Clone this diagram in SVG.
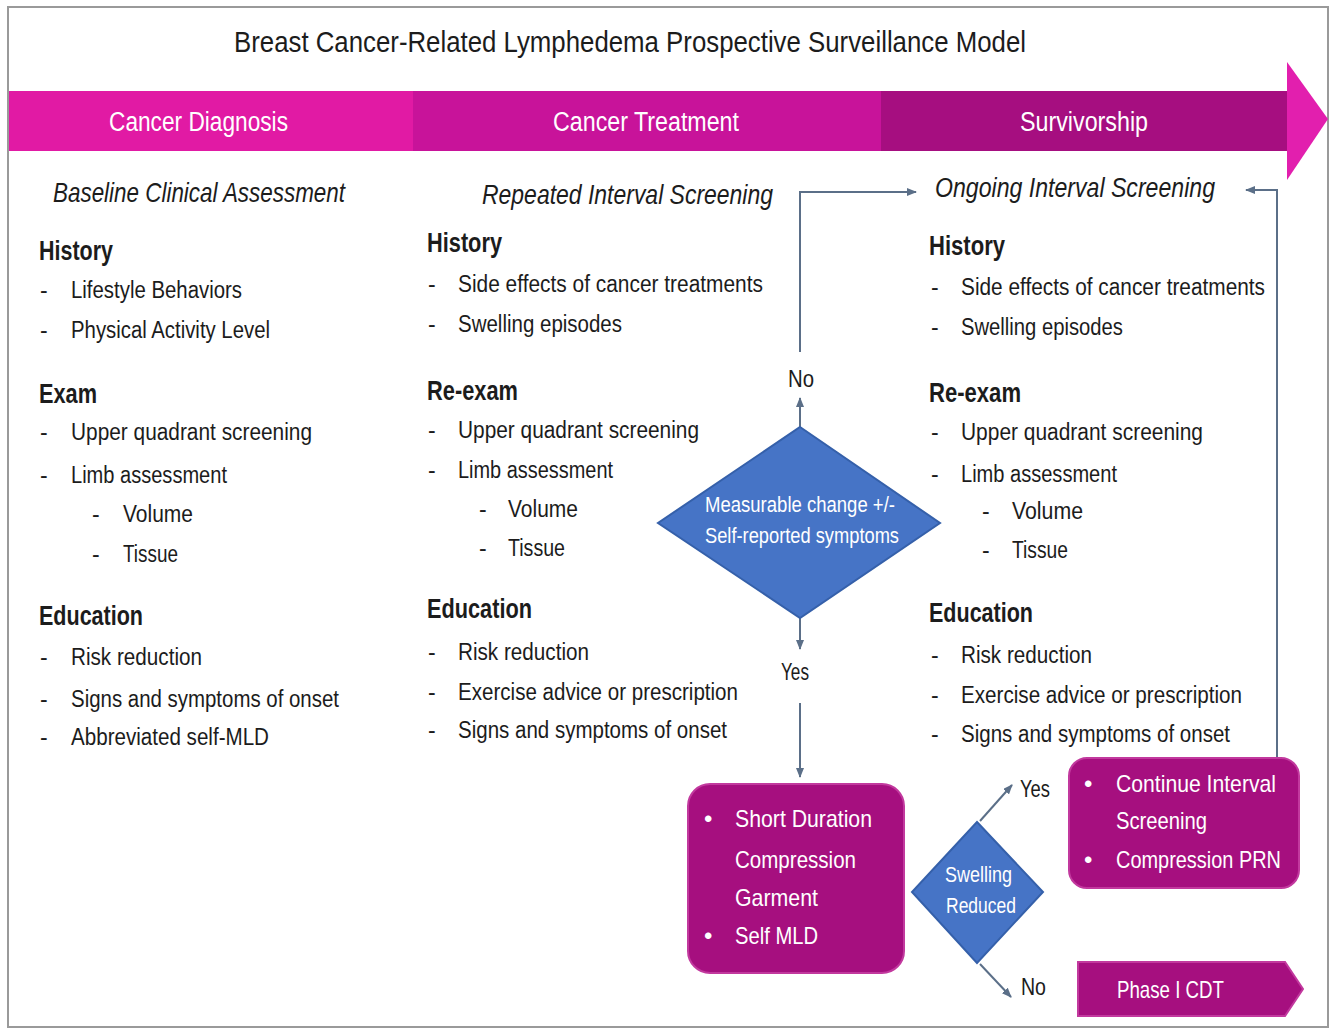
<svg xmlns="http://www.w3.org/2000/svg" width="1335" height="1032" viewBox="0 0 1335 1032">
<style>
text{font-family:"Liberation Sans",Arial,sans-serif;fill:#1c1c1c}
.title{font-size:29px}
.band{font-size:27px;fill:#fff}
.sub{font-size:28px;font-style:italic}
.h{font-size:28px;font-weight:bold}
.b{font-size:23px}
.d{font-size:22px;fill:#fff}
.bx{font-size:24px;fill:#fff}
.lbl{font-size:24px}
.conn{fill:none;stroke:#5b6f88;stroke-width:2}
.box{fill:#a60f7f;stroke:#c2399e;stroke-width:2}
.dia{fill:#4674c6;stroke:#3560aa;stroke-width:2}
</style>
<defs>
<marker id="ah" markerWidth="10" markerHeight="8" refX="9" refY="4" orient="auto" markerUnits="userSpaceOnUse">
<path d="M0,0 L10,4 L0,8 Z" fill="#5b6f88"/>
</marker>
</defs>
<rect x="8" y="7" width="1320" height="1020" fill="#ffffff" stroke="#9a9a9a" stroke-width="2"/>
<g id="title">
<text class="title" x="234" y="52" textLength="792" lengthAdjust="spacingAndGlyphs">Breast Cancer-Related Lymphedema Prospective Surveillance Model</text>
</g>
<g id="timeline">
<rect x="9" y="91" width="404" height="60" fill="#e11aa4"/>
<rect x="413" y="91" width="468" height="60" fill="#c8139a"/>
<rect x="881" y="91" width="407" height="60" fill="#a60e80"/>
<polygon points="1287,62 1328,119 1287,180" fill="#e21fae"/>
<text class="band" x="109" y="131" textLength="179" lengthAdjust="spacingAndGlyphs">Cancer Diagnosis</text>
<text class="band" x="553" y="131" textLength="186" lengthAdjust="spacingAndGlyphs">Cancer Treatment</text>
<text class="band" x="1020" y="131" textLength="128" lengthAdjust="spacingAndGlyphs">Survivorship</text>
</g>
<g id="col-diagnosis">
<text class="sub" x="53" y="202" textLength="292" lengthAdjust="spacingAndGlyphs">Baseline Clinical Assessment</text>
<text class="h" x="39" y="260" textLength="74" lengthAdjust="spacingAndGlyphs">History</text>
<text class="b" x="40" y="298">-</text><text class="b" x="71" y="298" textLength="171" lengthAdjust="spacingAndGlyphs">Lifestyle Behaviors</text>
<text class="b" x="40" y="338">-</text><text class="b" x="71" y="338" textLength="199" lengthAdjust="spacingAndGlyphs">Physical Activity Level</text>
<text class="h" x="39" y="403" textLength="58" lengthAdjust="spacingAndGlyphs">Exam</text>
<text class="b" x="40" y="440">-</text><text class="b" x="71" y="440" textLength="241" lengthAdjust="spacingAndGlyphs">Upper quadrant screening</text>
<text class="b" x="40" y="483">-</text><text class="b" x="71" y="483" textLength="156" lengthAdjust="spacingAndGlyphs">Limb assessment</text>
<text class="b" x="92" y="522">-</text><text class="b" x="123" y="522" textLength="70" lengthAdjust="spacingAndGlyphs">Volume</text>
<text class="b" x="92" y="562">-</text><text class="b" x="123" y="562" textLength="55" lengthAdjust="spacingAndGlyphs">Tissue</text>
<text class="h" x="39" y="625" textLength="104" lengthAdjust="spacingAndGlyphs">Education</text>
<text class="b" x="40" y="665">-</text><text class="b" x="71" y="665" textLength="131" lengthAdjust="spacingAndGlyphs">Risk reduction</text>
<text class="b" x="40" y="707">-</text><text class="b" x="71" y="707" textLength="268" lengthAdjust="spacingAndGlyphs">Signs and symptoms of onset</text>
<text class="b" x="40" y="745">-</text><text class="b" x="71" y="745" textLength="198" lengthAdjust="spacingAndGlyphs">Abbreviated self-MLD</text>
</g>
<g id="col-treatment">
<text class="sub" x="482" y="204" textLength="291" lengthAdjust="spacingAndGlyphs">Repeated Interval Screening</text>
<text class="h" x="427" y="252" textLength="75" lengthAdjust="spacingAndGlyphs">History</text>
<text class="b" x="428" y="292">-</text><text class="b" x="458" y="292" textLength="305" lengthAdjust="spacingAndGlyphs">Side effects of cancer treatments</text>
<text class="b" x="428" y="332">-</text><text class="b" x="458" y="332" textLength="164" lengthAdjust="spacingAndGlyphs">Swelling episodes</text>
<text class="h" x="427" y="400" textLength="91" lengthAdjust="spacingAndGlyphs">Re-exam</text>
<text class="b" x="428" y="438">-</text><text class="b" x="458" y="438" textLength="241" lengthAdjust="spacingAndGlyphs">Upper quadrant screening</text>
<text class="b" x="428" y="478">-</text><text class="b" x="458" y="478" textLength="155" lengthAdjust="spacingAndGlyphs">Limb assessment</text>
<text class="b" x="479" y="517">-</text><text class="b" x="508" y="517" textLength="70" lengthAdjust="spacingAndGlyphs">Volume</text>
<text class="b" x="479" y="556">-</text><text class="b" x="508" y="556" textLength="57" lengthAdjust="spacingAndGlyphs">Tissue</text>
<text class="h" x="427" y="618" textLength="105" lengthAdjust="spacingAndGlyphs">Education</text>
<text class="b" x="428" y="660">-</text><text class="b" x="458" y="660" textLength="131" lengthAdjust="spacingAndGlyphs">Risk reduction</text>
<text class="b" x="428" y="700">-</text><text class="b" x="458" y="700" textLength="280" lengthAdjust="spacingAndGlyphs">Exercise advice or prescription</text>
<text class="b" x="428" y="738">-</text><text class="b" x="458" y="738" textLength="269" lengthAdjust="spacingAndGlyphs">Signs and symptoms of onset</text>
</g>
<g id="col-survivorship">
<text class="sub" x="935" y="197" textLength="280" lengthAdjust="spacingAndGlyphs">Ongoing Interval Screening</text>
<text class="h" x="929" y="255" textLength="76" lengthAdjust="spacingAndGlyphs">History</text>
<text class="b" x="931" y="295">-</text><text class="b" x="961" y="295" textLength="304" lengthAdjust="spacingAndGlyphs">Side effects of cancer treatments</text>
<text class="b" x="931" y="335">-</text><text class="b" x="961" y="335" textLength="162" lengthAdjust="spacingAndGlyphs">Swelling episodes</text>
<text class="h" x="929" y="402" textLength="92" lengthAdjust="spacingAndGlyphs">Re-exam</text>
<text class="b" x="931" y="440">-</text><text class="b" x="961" y="440" textLength="242" lengthAdjust="spacingAndGlyphs">Upper quadrant screening</text>
<text class="b" x="931" y="482">-</text><text class="b" x="961" y="482" textLength="156" lengthAdjust="spacingAndGlyphs">Limb assessment</text>
<text class="b" x="982" y="519">-</text><text class="b" x="1012" y="519" textLength="71" lengthAdjust="spacingAndGlyphs">Volume</text>
<text class="b" x="982" y="558">-</text><text class="b" x="1012" y="558" textLength="56" lengthAdjust="spacingAndGlyphs">Tissue</text>
<text class="h" x="929" y="622" textLength="104" lengthAdjust="spacingAndGlyphs">Education</text>
<text class="b" x="931" y="663">-</text><text class="b" x="961" y="663" textLength="131" lengthAdjust="spacingAndGlyphs">Risk reduction</text>
<text class="b" x="931" y="703">-</text><text class="b" x="961" y="703" textLength="281" lengthAdjust="spacingAndGlyphs">Exercise advice or prescription</text>
<text class="b" x="931" y="742">-</text><text class="b" x="961" y="742" textLength="269" lengthAdjust="spacingAndGlyphs">Signs and symptoms of onset</text>
</g>
<g id="connectors">
<line class="conn" x1="800" y1="427" x2="800" y2="398" marker-end="url(#ah)"/>
<polyline class="conn" points="800,352 800,192 916,192" marker-end="url(#ah)"/>
<line class="conn" x1="800" y1="618" x2="800" y2="649" marker-end="url(#ah)"/>
<line class="conn" x1="800" y1="703" x2="800" y2="777" marker-end="url(#ah)"/>
<line class="conn" x1="980" y1="821" x2="1012" y2="785" marker-end="url(#ah)"/>
<line class="conn" x1="980" y1="964" x2="1011" y2="997" marker-end="url(#ah)"/>
<polyline class="conn" points="1277,758 1277,190 1246,190" marker-end="url(#ah)"/>
<text class="lbl" x="788" y="387" textLength="26" lengthAdjust="spacingAndGlyphs">No</text>
<text class="lbl" x="781" y="680" textLength="28" lengthAdjust="spacingAndGlyphs">Yes</text>
<text class="lbl" x="1020" y="797" textLength="30" lengthAdjust="spacingAndGlyphs">Yes</text>
<text class="lbl" x="1021" y="995" textLength="25" lengthAdjust="spacingAndGlyphs">No</text>
</g>
<g id="decision-measurable">
<polygon class="dia" points="800,427 940,523 800,618 658,523"/>
<text class="d" x="705" y="512" textLength="190" lengthAdjust="spacingAndGlyphs">Measurable change +/-</text>
<text class="d" x="705" y="543" textLength="194" lengthAdjust="spacingAndGlyphs">Self-reported symptoms</text>
</g>
<g id="box-short-duration">
<rect class="box" x="688" y="784" width="216" height="189" rx="22"/>
<text class="bx" x="704" y="827">•</text><text class="bx" x="735" y="827" textLength="137" lengthAdjust="spacingAndGlyphs">Short Duration</text>
<text class="bx" x="735" y="868" textLength="121" lengthAdjust="spacingAndGlyphs">Compression</text>
<text class="bx" x="735" y="906" textLength="83" lengthAdjust="spacingAndGlyphs">Garment</text>
<text class="bx" x="704" y="944">•</text><text class="bx" x="735" y="944" textLength="83" lengthAdjust="spacingAndGlyphs">Self MLD</text>
</g>
<g id="decision-swelling">
<polygon class="dia" points="977,822 1043,892 977,963 912,892"/>
<text class="d" x="945" y="882" textLength="67" lengthAdjust="spacingAndGlyphs">Swelling</text>
<text class="d" x="946" y="913" textLength="70" lengthAdjust="spacingAndGlyphs">Reduced</text>
</g>
<g id="box-continue">
<rect class="box" x="1069" y="758" width="230" height="130" rx="18"/>
<text class="bx" x="1084" y="792">•</text><text class="bx" x="1116" y="792" textLength="160" lengthAdjust="spacingAndGlyphs">Continue Interval</text>
<text class="bx" x="1116" y="829" textLength="91" lengthAdjust="spacingAndGlyphs">Screening</text>
<text class="bx" x="1084" y="868">•</text><text class="bx" x="1116" y="868" textLength="165" lengthAdjust="spacingAndGlyphs">Compression PRN</text>
</g>
<g id="box-phase1">
<polygon points="1078,962 1285,962 1303,989 1285,1016 1078,1016" fill="#a60f7f" stroke="#c2399e" stroke-width="2"/>
<text class="bx" x="1117" y="998" textLength="107" lengthAdjust="spacingAndGlyphs">Phase I CDT</text>
</g>
</svg>
